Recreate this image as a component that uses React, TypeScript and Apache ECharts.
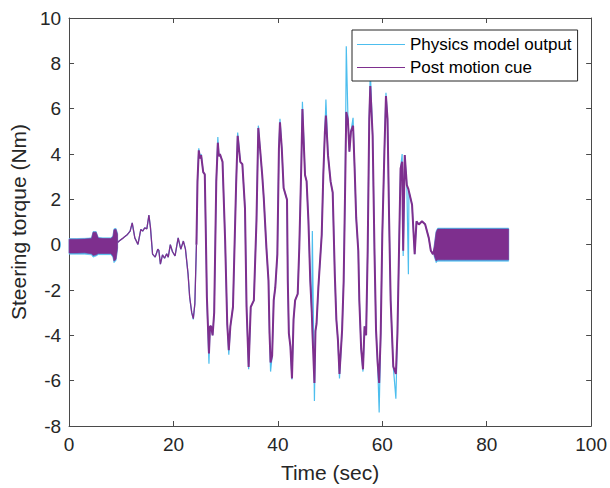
import React, { useEffect, useRef } from "react";
import * as echarts from "echarts";

// Main trace (time in seconds, torque in Nm)
const traceTime = [
  9.3, 9.6, 10.4, 11.2, 11.7, 12.1, 12.6, 13.2, 13.75, 14.1, 14.5, 14.9, 15.3, 15.6, 16.0, 16.5, 17.0, 17.2, 17.5, 17.9,
  18.3, 18.7, 19.0, 19.4, 19.8, 20.3, 20.6, 20.9, 21.4, 21.9, 22.3, 22.8, 23.1, 23.5, 23.8, 24.1, 24.4, 24.6, 24.85, 25.1,
  25.3, 25.7, 26.0, 26.2, 26.4, 26.8, 27.0, 27.2, 27.5, 27.8, 28.2, 28.5, 28.7, 28.9, 29.4, 29.9, 30.3, 30.6, 30.9, 31.4,
  32.0, 32.3, 32.8, 33.2, 33.7, 34.0, 34.4, 34.8, 35.4, 35.9, 36.25, 36.6, 37.0, 37.3, 37.8, 38.2, 38.4, 38.6, 38.9, 39.2,
  39.5, 39.9, 40.2, 40.4, 40.75, 41.1, 41.75, 41.9, 42.1, 42.4, 42.7, 43.0, 43.3, 43.8, 44.1, 44.5, 44.7, 45.2, 45.5, 45.85,
  46.2, 46.5, 46.6, 47.0, 47.2, 47.4, 47.75, 48.4, 48.7, 49.0, 49.2, 49.6, 50.1, 50.5, 50.9, 51.2, 51.5, 51.8, 52.3, 52.6,
  52.9, 53.1, 53.4, 53.7, 54.0, 54.4, 54.7, 55.0, 55.4, 55.6, 55.95, 56.3, 56.6, 56.9, 57.2, 57.5, 57.7, 58.15, 58.5, 58.8,
  59.1, 59.4, 59.7, 60.0, 60.4, 60.7, 61.0, 61.3, 61.6, 62.1, 62.6, 62.9, 63.2, 63.5, 63.8, 64.0, 64.3, 64.7, 65.0, 65.1,
  65.7, 66.0, 66.2, 66.55, 67.0, 67.6, 68.2, 68.9, 69.3, 69.7, 70.1,
];
const physicsValues = [
  0.1, 0.16, 0.3, 0.45, 0.6, 0.96, 0.3, 0.01, 0.67, 0.6, 0.74, 0.7, 1.3, 0.74, -0.42, -0.55, -0.2, -0.25, -0.86, -0.45,
  -0.6, -0.4, -0.55, 0.0, -0.3, -0.5, -0.1, 0.3, -0.2, 0.16, -0.2, -1.3, -2.3, -3.0, -3.3, -2.6, 0.0, 2.8, 4.25, 3.8,
  4.0, 3.2, 3.1, 0.5, -2.3, -5.25, -3.6, -3.6, -4.0, -3.0, 2.8, 4.75, 3.9, 4.0, 3.65, 0.16, -3.5, -4.85, -3.6, -2.75,
  2.63, 4.95, 3.65, 3.55, 1.6, -2.75, -5.5, -2.75, -2.46, 1.05, 5.25, 4.2, 3.07, 2.05, -0.13, -1.58, -3.9, -5.6, -4.9, -2.46,
  -1.9, -0.42, 4.24, 5.55, 4.24, 2.5, 1.98, -1.6, -3.9, -4.5, -5.95, -3.3, -2.46, -2.17, -0.13, 3.65, 6.3, 3.07, 2.8, 1.05,
  -1.58, -3.0, 0.6, -6.9, -3.8, -3.5, -1.9, 0.45, 3.07, 4.96, 6.4, 3.95, 2.78, 2.3, -1.3, -3.3, -4.2, -5.9, -3.77, -1.6,
  2.78, 8.75, 5.8, 4.1, 5.0, 5.6, 3.36, 1.18, -0.27, -2.46, -4.6, -5.6, -3.6, -4.0, -0.27, 5.55, 7.7, 4.8, -0.27, -3.77,
  -5.2, -7.4, -3.9, 0.45, 4.1, 6.7, 5.55, 1.18, -2.46, -5.37, -6.8, -3.9, -0.27, 3.36, 4.0, -0.5, 3.95, 2.63, -1.3, 2.35,
  1.76, 0.45, -0.42, 1.03, 0.89, 1.03, 0.9, 0.3, -0.27, -0.42, -0.1,
];
const cueValues = [
  0.1, 0.16, 0.3, 0.45, 0.6, 0.96, 0.3, 0.01, 0.67, 0.6, 0.74, 0.7, 1.3, 0.74, -0.42, -0.55, -0.2, -0.25, -0.86, -0.45,
  -0.6, -0.4, -0.55, 0.0, -0.3, -0.5, -0.1, 0.3, -0.2, 0.16, -0.2, -1.3, -2.3, -3.0, -3.26, -2.6, 0.0, 2.78, 4.16, 3.8,
  3.95, 3.2, 3.1, 0.5, -2.3, -4.8, -3.6, -3.6, -4.0, -3.0, 2.78, 4.5, 3.9, 4.0, 3.65, 0.16, -3.5, -4.65, -3.6, -2.75,
  2.63, 4.8, 3.65, 3.55, 1.6, -2.75, -5.4, -2.75, -2.46, 1.05, 5.15, 4.2, 3.07, 2.05, -0.13, -1.58, -3.9, -5.2, -4.9, -2.46,
  -1.9, -0.42, 4.24, 5.4, 4.24, 2.5, 1.98, -1.6, -3.9, -4.5, -5.9, -3.3, -2.46, -2.17, -0.13, 3.65, 5.98, 3.07, 2.8, 1.05,
  -1.58, -3.0, -3.77, -6.1, -3.8, -3.5, -1.9, 0.45, 3.07, 4.96, 5.7, 3.95, 2.78, 2.3, -1.3, -3.3, -4.2, -5.7, -3.77, -1.6,
  2.78, 5.85, 5.55, 4.1, 5.0, 5.25, 3.36, 1.18, -0.27, -2.46, -4.6, -5.5, -3.6, -4.0, -0.27, 5.55, 7.0, 4.8, -0.27, -3.77,
  -5.2, -6.1, -3.9, 0.45, 4.1, 6.56, 5.55, 1.18, -2.46, -5.37, -5.7, -3.9, -0.27, 3.36, 3.66, -0.27, 3.95, 2.63, 2.45, 2.35,
  1.76, 0.45, -0.42, 1.03, 0.89, 1.03, 0.9, 0.3, -0.27, -0.42, -0.1,
];
// index where the quiet part of the trace ends and the active steering part begins (t = 24.4 s)
const activeStartIndex = 36;

// Dense oscillation bands (upper / lower envelopes)
const band1Time = [0, 1.5, 3.0, 4.3, 4.6, 5.2, 5.6, 6.5, 8.0, 8.4, 8.6, 9.0, 9.3];
const band1PhysTop = [0.27, 0.27, 0.28, 0.3, 0.58, 0.58, 0.32, 0.3, 0.3, 0.38, 0.7, 0.72, 0.5];
const band1PhysBottom = [-0.42, -0.42, -0.42, -0.45, -0.55, -0.5, -0.44, -0.44, -0.44, -0.55, -0.8, -0.7, -0.2];
const band1CueTop = [0.24, 0.24, 0.25, 0.27, 0.55, 0.55, 0.29, 0.27, 0.27, 0.35, 0.66, 0.68, 0.45];
const band1CueBottom = [-0.37, -0.37, -0.36, -0.4, -0.48, -0.45, -0.39, -0.39, -0.39, -0.5, -0.72, -0.65, -0.15];

const band2Time = [69.9, 70.3, 70.6, 72.0, 76.0, 80.0, 84.2];
const band2PhysTop = [-0.1, 0.6, 0.73, 0.73, 0.73, 0.73, 0.73];
const band2PhysBottom = [-0.5, -0.8, -0.73, -0.73, -0.73, -0.73, -0.73];
const band2CueTop = [-0.15, 0.55, 0.69, 0.69, 0.69, 0.69, 0.69];
const band2CueBottom = [-0.45, -0.72, -0.67, -0.67, -0.67, -0.67, -0.67];

const xTicks = { min: 0, max: 100, interval: 20 };
const yTicks = { min: -8, max: 10, interval: 2 };

const CYAN = "#4DBEEE";
const PURPLE = "#7E2F8E";
const FONT = "'Liberation Sans', Arial, Helvetica, sans-serif";

function bandSeries(name: string, times: number[], top: number[], bottom: number[], color: string, z: number) {
  return {
    type: "custom",
    name,
    silent: true,
    z,
    data: [[times[0], top[0]]],
    encode: { x: 0, y: 1 },
    renderItem: (params: any, api: any) => {
      const pts: number[][] = [];
      for (let i = 0; i < times.length; i++) pts.push(api.coord([times[i], top[i]]));
      for (let i = times.length - 1; i >= 0; i--) pts.push(api.coord([times[i], bottom[i]]));
      return {
        type: "polygon",
        shape: { points: pts },
        style: { fill: color, stroke: color, lineWidth: 0.6 },
      };
    },
  };
}

export default function App() {
  const ref = useRef<HTMLDivElement>(null);
  useEffect(() => {
    if (!ref.current) return;
    const chart = echarts.init(ref.current, null, { renderer: "svg" });
    const axisLine = { show: true, onZero: false, lineStyle: { color: "#4a4a4a", width: 1 } };
    const tick = { show: true, inside: true, length: 5, lineStyle: { color: "#4a4a4a", width: 1 } };
    const labelStyle = { color: "#262626", fontSize: 19, fontFamily: FONT };
    const cuePairs = traceTime.map((t, i) => [t, cueValues[i]]);
    chart.setOption({
      animation: false,
      backgroundColor: "#ffffff",
      grid: { left: 66, right: 16, top: 18, bottom: 58, containLabel: false },
      legend: {
        data: ["Physics model output", "Post motion cue"],
        orient: "vertical",
        left: 352,
        top: 30,
        backgroundColor: "#ffffff",
        borderColor: "#262626",
        borderWidth: 1,
        padding: [6, 6, 5, 5],
        itemGap: 6,
        itemWidth: 48,
        itemHeight: 1.2,
        icon: "rect",
        textStyle: { fontSize: 17, color: "#000000", fontFamily: FONT, lineHeight: 17 },
      },
      xAxis: [
        {
          type: "value",
          ...xTicks,
          position: "bottom",
          axisLine,
          axisTick: tick,
          splitLine: { show: false },
          axisLabel: { ...labelStyle, margin: 9 },
          name: "Time (sec)",
          nameLocation: "middle",
          nameGap: 36,
          nameTextStyle: { color: "#262626", fontSize: 21, fontFamily: FONT },
        },
        {
          type: "value",
          ...xTicks,
          position: "top",
          axisLine,
          axisTick: tick,
          splitLine: { show: false },
          axisLabel: { show: false },
        },
      ],
      yAxis: [
        {
          type: "value",
          ...yTicks,
          position: "left",
          axisLine,
          axisTick: tick,
          splitLine: { show: false },
          axisLabel: { ...labelStyle, margin: 8 },
          name: "Steering torque (Nm)",
          nameLocation: "middle",
          nameGap: 34,
          nameTextStyle: { color: "#262626", fontSize: 21, fontFamily: FONT },
        },
        {
          type: "value",
          ...yTicks,
          position: "right",
          axisLine,
          axisTick: tick,
          splitLine: { show: false },
          axisLabel: { show: false },
        },
      ],
      series: [
        bandSeries("band1phys", band1Time, band1PhysTop, band1PhysBottom, CYAN, 1),
        bandSeries("band2phys", band2Time, band2PhysTop, band2PhysBottom, CYAN, 1),
        {
          type: "line",
          name: "Physics model output",
          data: traceTime.map((t, i) => [t, physicsValues[i]]),
          showSymbol: false,
          symbol: "none",
          lineStyle: { color: CYAN, width: 1.2 },
          itemStyle: { color: CYAN },
          z: 2,
        },
        bandSeries("band1cue", band1Time, band1CueTop, band1CueBottom, PURPLE, 3),
        bandSeries("band2cue", band2Time, band2CueTop, band2CueBottom, PURPLE, 3),
        {
          type: "line",
          name: "Post motion cue",
          data: cuePairs.slice(0, activeStartIndex + 1),
          showSymbol: false,
          symbol: "none",
          lineStyle: { color: PURPLE, width: 1.3 },
          itemStyle: { color: PURPLE },
          z: 4,
        },
        {
          type: "line",
          name: "Post motion cue",
          data: cuePairs.slice(activeStartIndex),
          showSymbol: false,
          symbol: "none",
          lineStyle: { color: PURPLE, width: 2.0 },
          itemStyle: { color: PURPLE },
          z: 4,
        },
      ],
    });
    return () => chart.dispose();
  }, []);
  return (
    <div
      ref={ref}
      style={{ position: "fixed", left: 0, top: 0, width: 610, height: 488, background: "#fff" }}
    />
  );
}
